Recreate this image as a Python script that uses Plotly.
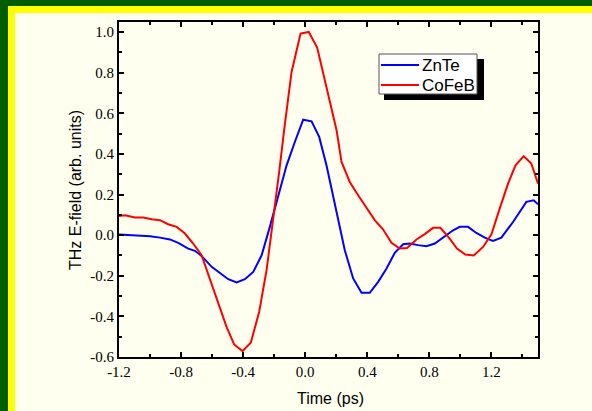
import plotly.graph_objects as go

# ZnTe (blue)
znte_t = [-1.2, -1.097, -1.0, -0.936, -0.872, -0.818, -0.754, -0.711, -0.668, -0.603,
          -0.55, -0.496, -0.442, -0.389, -0.335, -0.281, -0.228, -0.174, -0.120, -0.067,
          -0.013, 0.041, 0.090, 0.137, 0.180, 0.219, 0.255, 0.309, 0.363, 0.416,
          0.470, 0.524, 0.577, 0.631, 0.674, 0.727, 0.781, 0.835, 0.899, 0.953,
          0.996, 1.049, 1.103, 1.157, 1.210, 1.264, 1.339, 1.425, 1.472, 1.5]
znte_e = [0.003, 0.0, -0.005, -0.012, -0.021, -0.038, -0.066, -0.077, -0.102, -0.156,
          -0.186, -0.217, -0.233, -0.217, -0.181, -0.099, 0.041, 0.188, 0.344, 0.459,
          0.569, 0.561, 0.484, 0.344, 0.188, 0.041, -0.074, -0.213, -0.284, -0.284,
          -0.230, -0.164, -0.087, -0.045, -0.041, -0.049, -0.054, -0.041, -0.005, 0.024,
          0.041, 0.041, 0.011, -0.012, -0.028, -0.012, 0.065, 0.164, 0.172, 0.152]

# CoFeB (red)
cofeb_t = [-1.2, -1.161, -1.097, -1.043, -0.989, -0.936, -0.883, -0.828, -0.775, -0.722,
           -0.668, -0.614, -0.561, -0.507, -0.458, -0.404, -0.350, -0.297, -0.249, -0.206,
           -0.168, -0.136, -0.088, -0.030, 0.023, 0.077, 0.137, 0.202, 0.234, 0.287,
           0.341, 0.395, 0.448, 0.502, 0.556, 0.609, 0.656, 0.717, 0.770, 0.824,
           0.871, 0.927, 0.978, 1.032, 1.086, 1.146, 1.200, 1.253, 1.307, 1.355,
           1.408, 1.457, 1.5]
cofeb_e = [0.095, 0.098, 0.087, 0.087, 0.079, 0.074, 0.054, 0.041, 0.008, -0.041,
           -0.099, -0.218, -0.33, -0.452, -0.538, -0.571, -0.528, -0.378, -0.172, 0.074,
           0.311, 0.517, 0.804, 0.993, 1.001, 0.924, 0.730, 0.517, 0.361, 0.262,
           0.197, 0.134, 0.074, 0.028, -0.038, -0.066, -0.063, -0.021, 0.005, 0.036,
           0.036, -0.013, -0.066, -0.095, -0.100, -0.058, 0.004, 0.131, 0.254, 0.344,
           0.389, 0.353, 0.254]

series_names = ["ZnTe", "CoFeB"]
series_colors = ["#0000FF", "#FF0000"]

x_ticks = [-1.2, -0.8, -0.4, 0.0, 0.4, 0.8, 1.2]
x_labels = ["-1.2", "-0.8", "-0.4", "0.0", "0.4", "0.8", "1.2"]
y_ticks = [-0.6, -0.4, -0.2, 0.0, 0.2, 0.4, 0.6, 0.8, 1.0]
y_labels = ["-0.6", "-0.4", "-0.2", "0.0", "0.2", "0.4", "0.6", "0.8", "1.0"]

W, H = 592, 411
ML, MR, MT, MB = 119, 54, 22, 54
PW, PH = W - ML - MR, H - MT - MB


def px(x):
    return (x - ML) / PW


def py(y):
    return (H - MB - y) / PH


fig = go.Figure()
fig.add_trace(go.Scatter(x=znte_t, y=znte_e, mode="lines", name=series_names[0],
                         line=dict(color=series_colors[0], width=2)))
fig.add_trace(go.Scatter(x=cofeb_t, y=cofeb_e, mode="lines", name=series_names[1],
                         line=dict(color=series_colors[1], width=2)))

GREEN = "#005E00"
YELLOW = "#FFFF00"


def rect(x0, x1, y0, y1, fill, line=None):
    d = dict(type="rect", xref="paper", yref="paper", x0=px(x0), x1=px(x1),
             y0=py(y1), y1=py(y0), fillcolor=fill, layer="above")
    if line:
        d["line"] = dict(color=line, width=1)
    else:
        d["line_width"] = 0
    return d


shapes = [
    rect(-5, 8, -5, 420, GREEN),
    rect(-5, 600, -5, 6, GREEN),
    rect(8, 15, 6, 420, YELLOW),
    rect(8, 600, 6, 13, YELLOW),
    # legend shadow + box
    rect(384, 484, 59, 100, "black"),
    rect(379, 477, 54, 94, "white", line="#555555"),
]
legend_rows = [65, 85]
annotations = []
for name, color, yy in zip(series_names, series_colors, legend_rows):
    shapes.append(dict(type="line", xref="paper", yref="paper", x0=px(381), x1=px(419),
                       y0=py(yy), y1=py(yy), line=dict(color=color, width=2), layer="above"))
    annotations.append(dict(text=name, xref="paper", yref="paper", x=px(420), y=py(yy),
                            xanchor="left", yanchor="middle", showarrow=False,
                            font=dict(family="Liberation Sans", size=17, color="black")))

annotations += [
    dict(text="Time (ps)", xref="paper", yref="paper", x=px(330), y=py(398),
         xanchor="center", yanchor="middle", showarrow=False,
         font=dict(family="Liberation Sans", size=16, color="black")),
    dict(text="THz E-field (arb. units)", xref="paper", yref="paper", x=px(75), y=py(190),
         xanchor="center", yanchor="middle", showarrow=False, textangle=-90,
         font=dict(family="Liberation Sans", size=16, color="black")),
]

axis_common = dict(showline=True, linecolor="black", linewidth=2, mirror="ticks",
                   ticks="inside", ticklen=5, tickwidth=1.5, tickcolor="black",
                   showgrid=False, zeroline=False,
                   tickfont=dict(family="Liberation Serif", size=15, color="black"))

fig.update_layout(
    width=W, height=H,
    margin=dict(l=ML, r=MR, t=MT, b=MB),
    paper_bgcolor="#FFFFF0", plot_bgcolor="rgba(0,0,0,0)",
    shapes=shapes,
    showlegend=False,
    xaxis=dict(range=[-1.2, 1.5], tickmode="array", tickvals=x_ticks, ticktext=x_labels,
               minor=dict(tick0=-1.2, dtick=0.2, ticks="inside", ticklen=3, tickwidth=1.5,
                          tickcolor="black"),
               **axis_common),
    yaxis=dict(range=[-0.6, 1.05], tickmode="array", tickvals=y_ticks, ticktext=y_labels,
               minor=dict(tick0=-0.6, dtick=0.1, ticks="inside", ticklen=3, tickwidth=1.5,
                          tickcolor="black"),
               **axis_common),
    annotations=annotations,
)

fig.write_html("out.html", config={"displayModeBar": False},
               post_script="document.body.style.margin='0';document.body.style.padding='0';")
